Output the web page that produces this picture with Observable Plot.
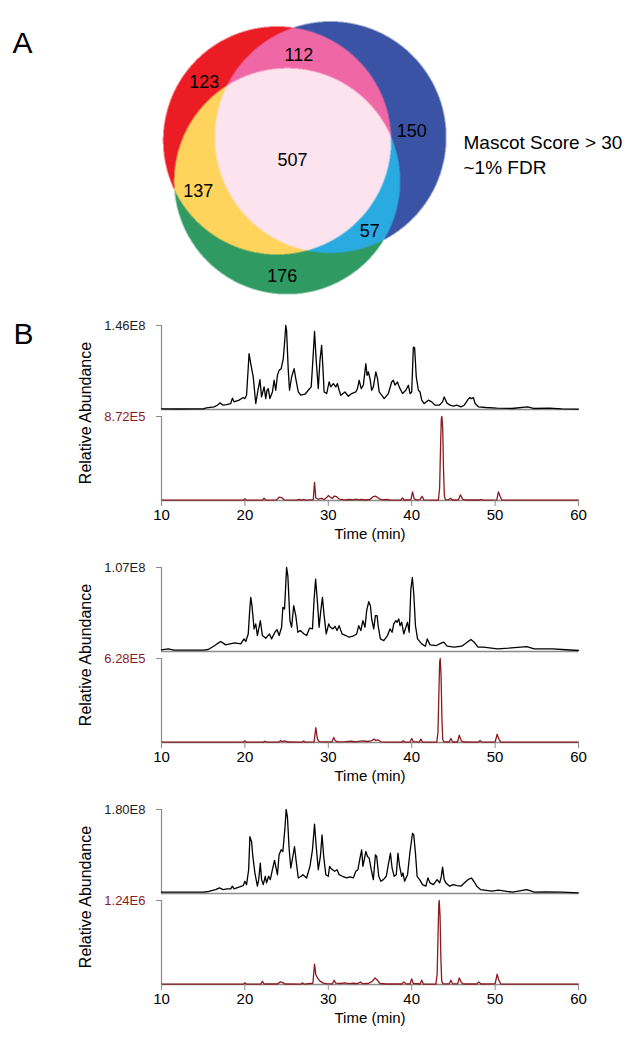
<!DOCTYPE html>
<html><head><meta charset="utf-8">
<script src="https://cdn.jsdelivr.net/npm/d3@7"></script>
<script src="https://cdn.jsdelivr.net/npm/@observablehq/plot@0.6"></script>
<style>
body{margin:0;background:#fff;}
#root{width:636px;}
#root svg{display:block;}
</style></head><body><div id="root"></div>
<script>
// ---------- DATA ----------
// Venn (peptide IDs, Mascot score > 30)
const vennRegions = ["R", "B", "G", "RB", "RG", "BG", "RBG"];
const vennCounts  = [123, 150, 176, 112, 137, 57, 507];
const vennNote = "Mascot Score > 30\n~1% FDR";

// Chromatogram scale labels (max intensity of each trace)
const ticMax = ["1.46E8", "1.07E8", "1.80E8"];
const xicMax = ["8.72E5", "6.28E5", "1.24E6"];
const timeTicks = [10, 20, 30, 40, 50, 60];

// Relative abundance (%) vs time (min)
const tic1 = [[10,0.8],[12,0.6],[14,0.8],[15,0.8],[15.4,2.0],[16.3,3.2],[16.7,5.1],[17.0,7.9],[17.4,5.1],[17.8,5.9],[18.3,7.1],[18.5,13.5],[18.7,9.1],[19.3,11.1],[19.8,14.2],[20.0,13],[20.2,17],[20.5,66.4],[20.7,54.5],[21.0,38.7],[21.3,7.1],[21.5,19],[21.8,35.6],[22.0,15],[22.3,26.9],[22.5,13],[22.65,22.9],[22.8,24.9],[23.0,13],[23.3,20.9],[23.5,34.8],[23.7,22.9],[23.9,40.7],[24.1,46.6],[24.35,48.6],[24.6,60.5],[24.75,78.3],[24.9,100],[25.0,94],[25.2,46.6],[25.35,22.9],[25.6,38.7],[25.9,48.6],[26.1,36.8],[26.4,20.9],[26.7,17],[27.2,18.2],[27.6,22.9],[27.95,26.9],[28.15,58.5],[28.35,92.9],[28.55,58.5],[28.8,24.9],[29.0,58.5],[29.2,76.3],[29.35,50.6],[29.5,20.9],[29.8,19],[30.1,32.8],[30.3,26.9],[30.6,30.8],[30.9,26.9],[31.1,30.8],[31.3,22.9],[31.5,17],[32.0,20.9],[32.4,15.8],[32.8,19],[33.3,20.9],[33.5,24.9],[33.7,34.8],[33.95,24.9],[34.2,28.9],[34.5,54.5],[34.65,40.7],[34.8,44.7],[35.0,36.8],[35.2,22.9],[35.4,26.9],[35.7,44.7],[35.9,36.8],[36.1,20.9],[36.4,17],[36.7,13],[37.2,19],[37.6,32.8],[37.8,34.8],[38.0,28.9],[38.3,32.8],[38.5,26.9],[38.7,22.9],[38.9,19],[39.3,22.9],[39.6,28.9],[39.8,19],[40.0,20.9],[40.2,74.3],[40.35,73.5],[40.55,38.7],[40.8,22.9],[41.0,20.9],[41.2,11.1],[41.5,7.1],[42.0,11.1],[42.4,9.1],[42.8,5.1],[43.3,5.1],[43.7,9.1],[43.9,15],[44.2,7.9],[44.6,5.1],[45.0,4.0],[45.4,5.1],[45.9,3.2],[46.3,5.1],[46.7,11.1],[46.95,14.2],[47.15,13],[47.4,14.2],[47.6,7.1],[48.0,3.2],[48.9,2.4],[50.2,1.6],[52.0,1.2],[53.9,3.2],[54.6,1.2],[56.5,1.6],[58,0.8],[60,0.4]];
const xic1 = [[10,0.4],[19.8,0.4],[20.0,2],[20.2,0.4],[22.1,0.4],[22.3,2.7],[22.5,0.4],[23.8,0.8],[24.1,3.9],[24.4,3.5],[24.7,0.8],[26.2,0.4],[26.5,1.2],[26.8,0.4],[27.0,1.2],[27.3,0.4],[28.2,1],[28.35,21.6],[28.5,3],[28.8,1.5],[29.2,2.5],[29.5,1.2],[29.8,3.5],[30.0,5.9],[30.3,3.5],[30.5,2.5],[30.7,5.1],[31.0,4.5],[31.3,1.6],[32.0,0.8],[32.5,1.2],[33.0,0.8],[33.3,1.6],[33.6,0.8],[34.0,1.2],[34.4,0.6],[35.0,1.2],[35.4,4.7],[35.7,5.1],[36.1,2.0],[36.5,0.8],[37.0,1.2],[37.5,0.4],[38.7,0.6],[38.9,3.1],[39.1,0.6],[39.9,0.8],[40.1,10.2],[40.3,2],[40.6,0.8],[41.0,1],[41.25,5.1],[41.45,0.8],[43.2,0.5],[43.35,15],[43.45,60],[43.55,97],[43.62,100],[43.72,85],[43.82,35],[43.92,5],[44.05,1],[44.4,0.8],[44.65,2.7],[44.85,0.6],[45.6,0.8],[45.85,6.7],[46.1,1.5],[46.4,0.6],[48.2,0.6],[48.4,1.2],[48.6,0.4],[50.2,0.8],[50.4,10.2],[50.6,5],[50.8,0.6],[52,0.4],[60,0.4]];
const tic2 = [[10,2.0],[10.8,3.0],[11.5,1.6],[13,1.6],[15,1.6],[15.6,2.4],[16.4,7.1],[16.8,10],[17.1,11.9],[17.4,10],[17.7,7.9],[18.2,9.1],[18.8,10.3],[19.5,9.1],[19.9,15],[20.1,11.9],[20.4,20.9],[20.55,45],[20.7,64.4],[20.85,54.5],[21.1,26.9],[21.3,32.8],[21.5,19],[21.85,36.8],[22.1,19],[22.5,15.8],[22.95,20.9],[23.2,15],[23.6,22.9],[23.85,26.1],[24.1,19],[24.4,28.9],[24.55,52.6],[24.75,50.6],[24.9,80],[25.0,100],[25.15,90.1],[25.4,36.8],[25.6,28.9],[25.85,54.5],[26.1,42.7],[26.35,22.9],[26.65,24.9],[27.1,20.9],[27.4,19],[27.75,27.7],[28.1,26.9],[28.3,62.5],[28.48,86.2],[28.7,58.5],[28.9,28.9],[29.1,48.6],[29.3,64.4],[29.5,42.7],[29.75,20.9],[30.05,32.8],[30.25,28.9],[30.55,26.9],[30.8,30],[31.05,24.9],[31.3,30.8],[31.65,20.9],[32.1,19],[32.5,17],[32.95,18.2],[33.4,20.9],[33.65,30.8],[33.9,24.9],[34.15,36.8],[34.4,28.9],[34.6,48.6],[34.85,59.3],[35.05,54.5],[35.2,38.7],[35.45,26.9],[35.65,42.7],[35.85,42.7],[36.0,28.9],[36.25,15],[36.65,13],[37.1,19],[37.4,26.9],[37.65,22.9],[37.85,32.8],[38.1,36.8],[38.25,34.8],[38.45,38.7],[38.6,30.8],[38.8,34.8],[39.05,20.9],[39.3,28.9],[39.5,34.8],[39.7,22.9],[39.9,74.3],[40.08,88.1],[40.25,68.4],[40.45,30.8],[40.7,15],[41.2,9.1],[41.65,6.3],[41.87,15],[42.2,7.9],[42.95,7.1],[43.6,10.3],[43.85,11.1],[44.25,6.3],[45.1,5.1],[46.0,6.3],[46.65,11.1],[47.1,14.2],[47.5,11.1],[47.95,5.1],[48.6,5.1],[50.3,3.2],[51.6,4.0],[53.8,5.9],[54.7,3.2],[56.9,3.2],[58,2.4],[60,1.2]];
const xic2 = [[10,0.4],[19.8,0.4],[20.0,2.0],[20.2,0.4],[22.2,0.4],[22.4,1.5],[22.6,0.4],[24.1,0.6],[24.3,2.4],[24.5,1.0],[24.8,2.0],[25.1,0.6],[26.9,0.4],[27.05,2.0],[27.2,0.4],[28.3,0.8],[28.5,17.6],[28.7,4],[28.9,1],[29.5,0.8],[30.45,0.8],[30.65,5.9],[30.85,2],[31.2,0.8],[32.0,1.0],[32.8,1.5],[33.3,0.8],[33.8,1.6],[34.2,2],[34.6,1.2],[35.2,2],[35.45,4],[35.7,2.5],[36.0,3],[36.3,0.8],[37,0.4],[38.8,0.4],[39.0,2.0],[39.2,0.4],[39.8,0.6],[40.0,4.7],[40.2,1],[40.9,0.4],[41.1,4],[41.3,0.4],[43.0,0.5],[43.15,12],[43.25,55],[43.35,95],[43.42,100],[43.52,80],[43.62,30],[43.72,4],[43.85,0.8],[44.5,0.6],[44.7,4.7],[44.9,0.6],[45.5,0.6],[45.7,8.6],[45.95,2],[46.2,0.6],[48.0,0.4],[48.2,2.4],[48.4,0.4],[50.0,0.6],[50.25,9.8],[50.45,4],[50.7,0.4],[60,0.4]];
const tic3 = [[10,1.6],[13,1.6],[15,1.6],[15.65,2.4],[16.5,4.7],[16.95,6.7],[17.4,4.7],[17.85,5.5],[18.3,5.5],[18.5,8.7],[18.7,5.5],[19.1,7.1],[19.8,9.4],[20.0,14.6],[20.2,10.6],[20.45,28.3],[20.6,67.7],[20.8,61.8],[20.95,44.1],[21.2,24.4],[21.5,8.7],[21.65,16.5],[21.85,36.2],[22.0,16.5],[22.2,10.6],[22.45,20.5],[22.6,12.6],[22.85,20.5],[23.05,16.5],[23.3,28.3],[23.55,39.4],[23.7,32.3],[23.9,22.4],[24.1,46.1],[24.35,52],[24.55,50],[24.8,77.6],[24.95,100],[25.1,91.3],[25.3,53.9],[25.5,30.3],[25.75,44.1],[25.95,55.9],[26.15,38.2],[26.4,18.5],[26.75,20.5],[26.95,22.4],[27.4,18.5],[27.8,32.3],[28.1,52],[28.35,82.7],[28.55,55.9],[28.8,28.3],[29.05,44.1],[29.25,69.7],[29.45,44.1],[29.7,22.4],[30.0,20.5],[30.15,32.3],[30.4,29.1],[30.75,26.4],[31.05,28.3],[31.3,22.4],[31.7,20.5],[32.2,18.5],[32.6,19.7],[33.0,18.5],[33.3,26.4],[33.55,28.3],[33.8,42.1],[34.0,52],[34.15,32.3],[34.35,42.1],[34.5,50],[34.7,44.1],[34.9,42.1],[35.15,28.3],[35.4,16.5],[35.65,46.1],[35.8,44.1],[36.05,20.5],[36.3,14.6],[36.6,16.5],[36.95,20.5],[37.2,34.3],[37.45,48],[37.65,30.3],[37.9,20.5],[38.15,22.4],[38.35,48],[38.55,32.3],[38.8,20.5],[38.95,24.4],[39.15,14.6],[39.5,22.4],[39.8,50],[40.1,71.7],[40.25,69.7],[40.45,48],[40.65,20.5],[40.95,16.5],[41.3,10.6],[41.7,8.7],[41.95,18.5],[42.2,12.6],[42.6,10.6],[43.05,16.5],[43.35,12.6],[43.55,20],[43.7,31.5],[43.9,16.5],[44.1,12.6],[44.55,8.7],[45.0,10.6],[45.45,9.4],[45.9,8.7],[46.3,12.6],[46.75,16.5],[47.15,18.5],[47.45,14.6],[47.8,8.7],[48.25,4.7],[49.6,2.8],[50.4,3.9],[52.1,1.6],[53.8,4.7],[54.7,1.6],[56,2.0],[58,1.6],[60,0.8]];
const xic3 = [[10,0.4],[19.8,0.4],[20.0,2.0],[20.2,0.4],[21.9,0.4],[22.1,3.9],[22.3,0.6],[23.9,0.6],[24.25,3.1],[24.5,2.5],[24.8,0.6],[26.7,0.4],[26.9,2.0],[27.1,0.4],[28.15,1.5],[28.35,24.3],[28.5,12],[28.7,7.8],[29.0,4],[29.4,1.6],[29.9,0.8],[30.5,0.8],[30.7,5.1],[30.9,1.6],[31.5,1.2],[32.0,2.0],[32.5,1.0],[33.0,1.5],[33.5,1.0],[33.85,3.0],[34.1,1.0],[34.8,1.2],[35.3,4],[35.6,7.8],[35.9,5],[36.2,1.2],[37,0.6],[38.8,0.6],[39.05,3.1],[39.3,0.8],[39.8,0.6],[40.0,6.7],[40.2,1.2],[41.0,0.6],[41.2,5.1],[41.4,0.6],[42.9,0.5],[43.05,12],[43.15,55],[43.25,96],[43.3,100],[43.4,82],[43.5,30],[43.6,4],[43.75,0.8],[44.5,0.8],[44.7,5.1],[44.9,0.8],[45.5,0.8],[45.7,7.8],[45.95,2.5],[46.2,0.6],[47.8,0.6],[48.05,3.1],[48.3,0.6],[50.0,0.8],[50.25,12.2],[50.45,5],[50.7,0.6],[52,0.4],[60,0.4]];

// ---------- STYLE / LAYOUT ----------
const FONT = "'Liberation Sans', Arial, Helvetica, sans-serif";
const GRAY = "#8c8c8c";
const DARKRED = "#8b1a1f";
const regionColor = {R:"#ec1c24", B:"#3a53a4", G:"#2f9a62", RB:"#f067a6", RG:"#ffd45c", BG:"#29abe2", RBG:"#fde3ee"};
// circle layout in pixel units of the Venn frame
const circles = {R:{cx:276.7, cy:140, r:114}, B:{cx:330, cy:136.7, r:115.7}, G:{cx:286.7, cy:180.7, r:113}};
const labelPos = {R:[203.7,81.7], RB:[298.3,54.3], B:[411.3,131], RBG:[292,159.3], RG:[197.8,190.7], BG:[369.3,230.7], G:[281.7,276]};
const VW = 636, VH = 300;

const root = document.getElementById("root");

// ---------- VENN ----------
const inside = (c, x, y) => (x - c.cx) ** 2 + (y - c.cy) ** 2 <= c.r * c.r;
const vennTable = vennRegions.map((k, i) => ({region: k, count: vennCounts[i], x: labelPos[k][0], y: labelPos[k][1]}));

const venn = Plot.plot({
  width: VW, height: VH, margin: 0,
  style: {fontFamily: FONT, background: "white"},
  x: {domain: [0, VW], axis: null},
  y: {domain: [VH, 0], axis: null},
  color: {type: "identity"},
  marks: [
    Plot.raster({
      x1: 0, x2: VW, y1: 0, y2: VH, pixelSize: 0.5,
      fill: (x, y) => {
        const k = (inside(circles.R, x, y) ? "R" : "") + (inside(circles.B, x, y) ? "B" : "") + (inside(circles.G, x, y) ? "G" : "");
        return k ? regionColor[k] : "white";
      }
    }),
    Plot.text(vennTable, {x: "x", y: "y", text: d => String(d.count), fontSize: 18, fill: "black"}),
    Plot.text(["A"], {frameAnchor: "top-left", dx: 12, dy: 43, text: d => d, textAnchor: "start", lineAnchor: "middle", fontSize: 30}),
    Plot.text([vennNote], {x: 463, y: 152.5, text: d => d, textAnchor: "start", lineAnchor: "middle", lineHeight: 1.32, fontSize: 19})
  ]
});
root.appendChild(venn);

// ---------- CHROMATOGRAMS ----------
const panels = [
  {tic: tic1, xic: xic1, ticLabel: ticMax[0], xicLabel: xicMax[0], letter: "B"},
  {tic: tic2, xic: xic2, ticLabel: ticMax[1], xicLabel: xicMax[1]},
  {tic: tic3, xic: xic3, ticLabel: ticMax[2], xicLabel: xicMax[2]}
];

for (const p of panels) {
  const ticRows = p.tic.map(([t, v]) => ({trace: "TIC", t, v}));
  const xicRows = p.xic.map(([t, v]) => ({trace: "XIC", t, v}));
  const marks = [
    Plot.ruleY([0], {stroke: GRAY, strokeWidth: 1.3}),
    Plot.ruleX([timeTicks[0]], {y1: 0, y2: 100, stroke: GRAY, strokeWidth: 1.2}),
    Plot.axisY({ticks: [100], tickSize: 5, tickFormat: () => "", stroke: GRAY, label: null}),
    Plot.text([{trace: "TIC", y: 100, label: p.ticLabel}], {fy: "trace", y: "y", text: "label", frameAnchor: "left", textAnchor: "end", dx: -16, fontSize: 13, fill: "#222"}),
    Plot.text([{trace: "XIC", y: 100, label: p.xicLabel}], {fy: "trace", y: "y", text: "label", frameAnchor: "left", textAnchor: "end", dx: -16, fontSize: 13, fill: DARKRED}),
    Plot.line(ticRows, {fy: "trace", x: "t", y: "v", stroke: "black", strokeWidth: 1.3}),
    Plot.line(xicRows, {fy: "trace", x: "t", y: "v", stroke: DARKRED, strokeWidth: 1.3}),
    Plot.axisX({ticks: timeTicks, tickSize: 6, tickPadding: 3, stroke: GRAY, fontSize: 15, label: "Time (min)", labelAnchor: "center", labelOffset: 38, labelArrow: "none"}),
    Plot.axisFy({anchor: "left", tickSize: 0, tickFormat: () => "", label: "Relative Abundance", labelAnchor: "center", labelOffset: 82, fontSize: 16})
  ];
  if (p.letter) {
    marks.push(Plot.text([{trace: "TIC", label: p.letter}], {fy: "trace", text: "label", frameAnchor: "top-left", textAnchor: "start", lineAnchor: "middle", dx: -148, dy: 9, fontSize: 30}));
  }
  const chart = Plot.plot({
    width: 636, height: 242,
    marginLeft: 161, marginRight: 58, marginTop: 25, marginBottom: 41,
    style: {fontFamily: FONT, fontSize: "15px", background: "white", color: "black"},
    x: {domain: [timeTicks[0], timeTicks[timeTicks.length - 1]]},
    y: {domain: [0, 100]},
    fy: {domain: ["TIC", "XIC"], paddingInner: 0.072, paddingOuter: 0},
    marks
  });
  root.appendChild(chart);
}
</script>
</body></html>
